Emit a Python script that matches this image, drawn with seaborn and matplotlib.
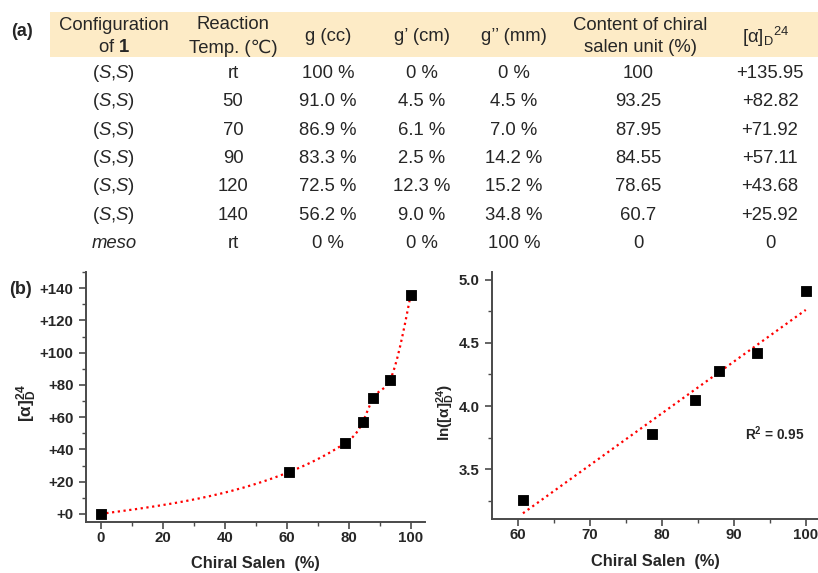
import numpy as np
import pandas as pd
import matplotlib
matplotlib.use("Agg")
import matplotlib.pyplot as plt
from matplotlib.patches import Rectangle
from matplotlib.ticker import MultipleLocator
import seaborn as sns

# ---- table data (a) ----
configs = ["(S,S)", "(S,S)", "(S,S)", "(S,S)", "(S,S)", "(S,S)", "meso"]
temps = ["rt", "50", "70", "90", "120", "140", "rt"]
g_cc = ["100 %", "91.0 %", "86.9 %", "83.3 %", "72.5 %", "56.2 %", "0 %"]
g_cm = ["0 %", "4.5 %", "6.1 %", "2.5 %", "12.3 %", "9.0 %", "0 %"]
g_mm = ["0 %", "4.5 %", "7.0 %", "14.2 %", "15.2 %", "34.8 %", "100 %"]
chiral_content = [100, 93.25, 87.95, 84.55, 78.65, 60.7, 0]
rotation = [135.95, 82.82, 71.92, 57.11, 43.68, 25.92, 0]

headers = ["Configuration\nof $\\mathbf{1}$", "Reaction\nTemp. (℃)", "g (cc)",
           "g’ (cm)", "g’’ (mm)", "Content of chiral\nsalen unit (%)", "[α]$_{D}$$^{24}$"]

# ---- plot (b) tick labels ----
left_yticks = [0, 20, 40, 60, 80, 100, 120, 140]
left_yticklabels = ["+0", "+20", "+40", "+60", "+80", "+100", "+120", "+140"]
left_xticks = [0, 20, 40, 60, 80, 100]
right_xticks = [60, 70, 80, 90, 100]
right_yticks = [3.5, 4.0, 4.5, 5.0]

sns.set_style("ticks")
plt.rcParams["font.family"] = ["Liberation Sans", "DejaVu Sans"]
plt.rcParams["mathtext.fontset"] = "custom"
plt.rcParams["mathtext.rm"] = "Liberation Sans"
plt.rcParams["mathtext.it"] = "Liberation Sans:italic"
plt.rcParams["mathtext.bf"] = "Liberation Sans:bold"
plt.rcParams["mathtext.default"] = "regular"

W, H = 818, 573
fig = plt.figure(figsize=(W / 100, H / 100), dpi=100)


def fx(px):
    return px / W


def fy(py):
    return 1 - py / H


def natural_spline(x, y, xnew):
    """Natural cubic spline through the points (smooth connecting line)."""
    n = len(x)
    h = np.diff(x)
    A = np.zeros((n, n))
    r = np.zeros(n)
    A[0, 0] = A[-1, -1] = 1
    for i in range(1, n - 1):
        A[i, i - 1] = h[i - 1]
        A[i, i] = 2 * (h[i - 1] + h[i])
        A[i, i + 1] = h[i]
        r[i] = 6 * ((y[i + 1] - y[i]) / h[i] - (y[i] - y[i - 1]) / h[i - 1])
    M = np.linalg.solve(A, r)
    idx = np.clip(np.searchsorted(x, xnew) - 1, 0, n - 2)
    x0, x1 = x[idx], x[idx + 1]
    hh = x1 - x0
    return (M[idx] * (x1 - xnew) ** 3 / (6 * hh) + M[idx + 1] * (xnew - x0) ** 3 / (6 * hh)
            + (y[idx] / hh - M[idx] * hh / 6) * (x1 - xnew)
            + (y[idx + 1] / hh - M[idx + 1] * hh / 6) * (xnew - x0))


# ---- table ----
fig.add_artist(Rectangle((fx(50), fy(57)), fx(818) - fx(50), fy(12) - fy(57),
                         transform=fig.transFigure, color="#FDEBC6", lw=0, zorder=0))
fig.text(fx(22), fy(32), "(a)", fontsize=13, fontweight="bold", ha="center", va="center")

col_x = [114, 233, 328, 422, 514, 638, 770]
head_x = [114, 233, 328, 422, 514, 640, 766]
for cx, h in zip(head_x, headers):
    fig.text(fx(cx), fy(36.5), h, fontsize=13.3, ha="center", va="center", linespacing=1.45)

row_y = [73.5, 101.7, 130, 158.3, 186.7, 215, 243.3]
fs = 13.3
for i, ry in enumerate(row_y):
    if configs[i] == "meso":
        fig.text(fx(col_x[0]), fy(ry), "meso", style="italic", fontsize=fs, ha="center", va="center")
    else:
        fig.text(fx(col_x[0]), fy(ry), "($\\mathit{S}$,$\\mathit{S}$)", fontsize=fs, ha="center", va="center")
    content = f"{chiral_content[i]:g}"
    rot = f"+{rotation[i]:.2f}" if rotation[i] else "0"
    for cx, val in zip(col_x[1:], [temps[i], g_cc[i], g_cm[i], g_mm[i], content, rot]):
        fig.text(fx(cx), fy(ry), val, fontsize=fs, ha="center", va="center")

# ---- plots ----
spine_col = "#4a4a4a"
df = pd.DataFrame({"chiral": chiral_content, "rot": rotation})
df_pos = df[df["rot"] > 0].copy()
df_pos["ln_rot"] = np.log(df_pos["rot"])

ax1 = fig.add_axes([fx(86), fy(522), fx(425) - fx(86), fy(272) - fy(522)])
ax2 = fig.add_axes([fx(492), fy(519), fx(818) - fx(492), fy(272) - fy(519)])

srt = df.sort_values("chiral")
xs = srt["chiral"].to_numpy(float)
ys = srt["rot"].to_numpy(float)
xfit = np.linspace(0, 100, 400)
fit_df = pd.DataFrame({"x": xfit, "y": natural_spline(xs, ys, xfit)})

dot = (0, (1, 1.6))
sns.lineplot(data=fit_df, x="x", y="y", ax=ax1, color="red", lw=1.6, ls=dot, zorder=1)
sns.scatterplot(data=df, x="chiral", y="rot", ax=ax1, marker="s", s=60, color="black",
                edgecolor="black", zorder=3)

sns.regplot(data=df_pos, x="chiral", y="ln_rot", ax=ax2, scatter=False, ci=None,
            line_kws=dict(color="red", lw=1.6, ls=dot))
sns.scatterplot(data=df_pos, x="chiral", y="ln_rot", ax=ax2, marker="s", s=60, color="black",
                edgecolor="black", zorder=3)

ax1.set_xlim(-4.7, 104.6)
ax1.set_ylim(-5, 150)
ax1.set_xticks(left_xticks)
ax1.set_yticks(left_yticks)
ax1.set_yticklabels(left_yticklabels)
ax1.xaxis.set_minor_locator(MultipleLocator(10))
ax1.yaxis.set_minor_locator(MultipleLocator(10))

ax2.set_xlim(56.4, 101.7)
ax2.set_ylim(3.108, 5.06)
ax2.set_xticks(right_xticks)
ax2.set_yticks(right_yticks)
ax2.xaxis.set_minor_locator(MultipleLocator(5))
ax2.yaxis.set_minor_locator(MultipleLocator(0.25))

for ax in (ax1, ax2):
    sns.despine(ax=ax)
    for s in ("left", "bottom"):
        ax.spines[s].set_color(spine_col)
        ax.spines[s].set_linewidth(1.4)
    ax.tick_params(which="major", direction="out", length=5, width=1.2, color=spine_col,
                   labelsize=10.8)
    ax.tick_params(axis="x", which="major", pad=1.5)
    ax.tick_params(axis="y", which="major", pad=4)
    ax.tick_params(which="minor", direction="out", length=3, width=1.0, color=spine_col)
    for lbl in ax.get_xticklabels() + ax.get_yticklabels():
        lbl.set_fontweight("bold")
    ax.set_xlabel("Chiral Salen  (%)", fontsize=11.8, fontweight="bold")

ax1.set_ylabel("[α]$_{D}^{24}$", fontsize=12.5, fontweight="bold")
ax2.set_ylabel("ln([α]$_{D}^{24}$)", fontsize=11, fontweight="bold")
ax1.xaxis.set_label_coords(0.5, -0.135)
ax2.xaxis.set_label_coords(0.5, -0.142)
ax1.yaxis.set_label_coords(-0.14, 0.476)
ax2.yaxis.set_label_coords(-0.108, 0.433)

ax2.text(0.868, 0.345, "R$^{2}$ = 0.95", transform=ax2.transAxes, fontsize=9.8,
         fontweight="bold", ha="center", va="center")
fig.text(fx(21), fy(289), "(b)", fontsize=13, fontweight="bold", ha="center", va="center")

fig.savefig("out.png", dpi=100)
